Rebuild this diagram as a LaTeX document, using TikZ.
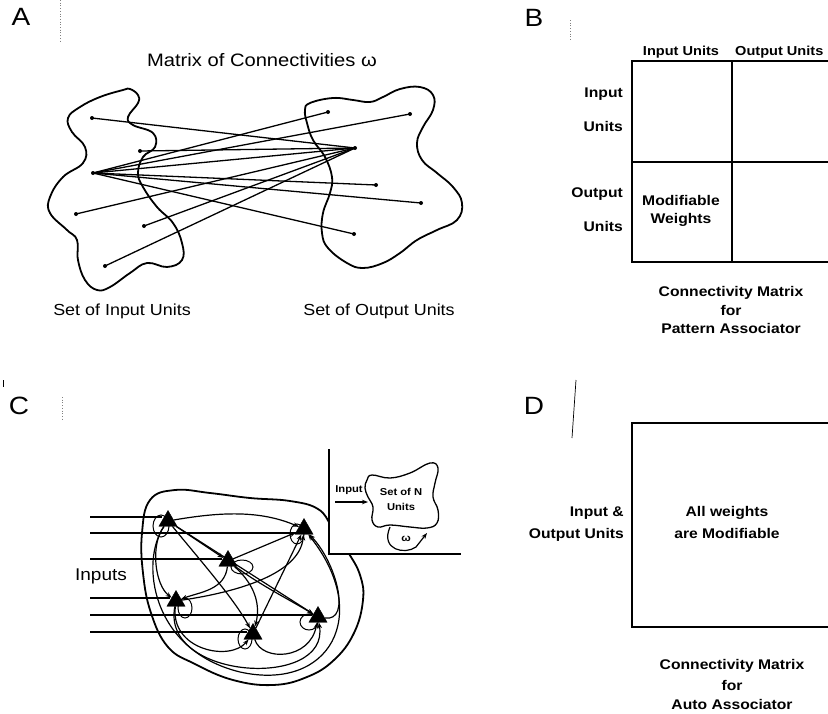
\documentclass[tikz,border=0pt]{standalone}
\usepackage{fontspec}
\setmainfont{Liberation Sans}[FakeStretch=1.12]
\usetikzlibrary{arrows.meta,shapes.geometric}
\begin{document}
\begin{tikzpicture}[x=1pt,y=-1pt,
  lbl/.style={font=\fontsize{25}{25}\selectfont, inner sep=0pt, text height=0.72em, text depth=0pt},
  txt/.style={font=\fontsize{16}{16}\selectfont, inner sep=0pt, text height=0.72em, text depth=0pt},
  ttl/.style={font=\fontsize{18}{18}\selectfont, inner sep=0pt, text height=0.72em, text depth=0pt},
  btxt/.style={font=\bfseries\fontsize{14}{14}\selectfont, inner sep=0pt, text height=0.72em, text depth=0pt},
  stxt/.style={font=\bfseries\fontsize{10}{10}\selectfont, inner sep=0pt, text height=0.72em, text depth=0pt},
  blob/.style={line width=1.8pt},
  dotn/.style={circle, fill, inner sep=0pt, minimum size=4pt},
  link/.style={line width=1.3pt},
  tri/.style={regular polygon, regular polygon sides=3, fill, draw, inner sep=0pt, minimum size=21pt},
  wire/.style={line width=1.2pt, -{Stealth[length=6pt,width=4.5pt]}},
  inwire/.style={line width=1.4pt},
  loopc/.style={line width=1pt},
  mat/.style={line width=1.6pt},
  faint/.style={line width=0.7pt, dotted, gray}
]
\useasboundingbox (0,0) rectangle (828,713);

% ---------------- Panel A ----------------
\node[lbl] (la) at (21,22) {A};
\draw[faint] (60,0) -- (60,42);
\node[ttl] (ta) at (262,63) {Matrix of Connectivities ω};
\draw[blob] plot[smooth cycle, tension=0.7] coordinates {
 (123,90) (100,97) (80,107) (68,118) (72,132) (85,147) (83,163) (63,177)
 (50,197) (50,213) (67,230) (77,240) (78,260) (85,280) (97,290) (110,287)
 (130,273) (147,263) (167,267) (182,260) (182,243) (173,223) (157,207)
 (143,187) (138,173) (143,157) (155,147) (153,133) (133,125) (128,117)
 (138,103) (138,95) (130,89)};
\draw[blob] plot[smooth cycle, tension=0.7] coordinates {
 (310,103) (333,98) (353,100) (370,102) (383,97) (400,89) (420,87) (433,95)
 (433,110) (423,127) (417,143) (422,160) (437,173) (453,187) (462,203)
 (457,220) (437,230) (417,240) (400,253) (383,263) (363,268) (347,263)
 (328,248) (322,233) (323,213) (330,193) (332,177) (325,157) (313,140)
 (307,123) (305,110)};
\node[dotn] (i1) at (92,118) {};
\node[dotn] (i2) at (140,151) {};
\node[dotn] (i3) at (93,173) {};
\node[dotn] (i4) at (76,214) {};
\node[dotn] (i5) at (144,226) {};
\node[dotn] (i6) at (105,266) {};
\node[dotn] (o1) at (328,112) {};
\node[dotn] (o2) at (410,114) {};
\node[dotn] (o3) at (355,148) {};
\node[dotn] (o4) at (376,185) {};
\node[dotn] (o5) at (421,203) {};
\node[dotn] (o6) at (354,234) {};
\foreach \a in {i1,i2,i3,i4,i5,i6} \draw[link] (\a.center) -- (o3.center);
\foreach \b in {o1,o2,o4,o5,o6} \draw[link] (i3.center) -- (\b.center);
\node[txt] (sa1) at (122,312) {Set of Input Units};
\node[txt] (sa2) at (379,312) {Set of Output Units};

% ---------------- Panel B ----------------
\node[lbl] (lb) at (534,23) {B};
\draw[faint] (570,20) -- (570,40);
\node[btxt, font=\bfseries\fontsize{13}{13}\selectfont] (hb1) at (681,52) {Input Units};
\node[btxt, font=\bfseries\fontsize{13}{13}\selectfont, anchor=west] (hb2) at (735,52) {Output Units};
\draw[mat] (828,61) -- (632,61) -- (632,262) -- (828,262);
\draw[mat] (732,61) -- (732,262);
\draw[mat] (632,162) -- (828,162);
\node[btxt, anchor=east] (rb1) at (623,94) {Input};
\node[btxt, anchor=east] (rb2) at (623,128) {Units};
\node[btxt, anchor=east] (rb3) at (623,194) {Output};
\node[btxt, anchor=east] (rb4) at (623,228) {Units};
\node[btxt] (mw1) at (681,202) {Modifiable};
\node[btxt] (mw2) at (681,220) {Weights};
\node[btxt] (cb1) at (731,293) {Connectivity Matrix};
\node[btxt] (cb2) at (731,312) {for};
\node[btxt] (cb3) at (731,330) {Pattern Associator};

% ---------------- Panel C ----------------
\draw[line width=0.6pt] (3,380) -- (3,387);
\node[lbl] (lc) at (19,411) {C};
\draw[faint] (62,397) -- (62,420);
\draw[blob] plot[smooth cycle, tension=0.7] coordinates {
 (150,500) (175,490) (210,493) (250,498) (290,501) (318,509) (332,527)
 (348,552) (360,575) (363,600) (354,633) (334,660) (307,677) (273,685)
 (233,680) (195,664) (168,647) (151,613) (143,573) (142,533)};
\coordinate (p1) at (168,521);
\coordinate (p2) at (304,529);
\coordinate (p3) at (228,561);
\coordinate (p4) at (176,601);
\coordinate (p5) at (318,617);
\coordinate (p6) at (253,634);
% self loops
\draw[loopc] (161,526) ellipse [x radius=8pt, y radius=11pt];
\draw[loopc] (297,534) ellipse [x radius=7pt, y radius=10pt];
\draw[loopc] (242,567) ellipse [x radius=11pt, y radius=7pt];
\draw[loopc] (185,608) ellipse [x radius=7pt, y radius=10pt];
\draw[loopc] (309,622) ellipse [x radius=9pt, y radius=8pt];
\draw[loopc] (245,639) ellipse [x radius=7pt, y radius=10pt];
\node[tri] (t1) at (p1) {};
\node[tri] (t2) at (p2) {};
\node[tri] (t3) at (p3) {};
\node[tri] (t4) at (p4) {};
\node[tri] (t5) at (p5) {};
\node[tri] (t6) at (p6) {};
% input lines
\node[txt, font=\fontsize{17}{17}\selectfont] (inp) at (101,577) {Inputs};
\coordinate (in1) at (90,517);
\coordinate (in2) at (90,533);
\coordinate (in3) at (90,559);
\coordinate (in4) at (90,598);
\coordinate (in5) at (90,615);
\coordinate (in6) at (90,632);
\draw[inwire] (in1) -- (in1 -| t1.west);
\draw[inwire] (in2) -- (in2 -| t2.west);
\draw[inwire] (in3) -- (in3 -| t3.west);
\draw[inwire] (in4) -- (in4 -| t4.west);
\draw[inwire] (in5) -- (in5 -| t5.west);
\draw[inwire] (in6) -- (in6 -| t6.west);
% connections
\draw[wire] (t1) .. controls (220,512) and (260,510) .. (t2);
\draw[wire] (t1) -- (t3);
\draw[wire] (t1) -- (t5);
\draw[wire] (t1) .. controls (200,560) and (235,600) .. (t6);
\draw[wire] (t3) -- (t2);
\draw[wire] (t3) .. controls (260,585) and (290,600) .. (t5);
\draw[wire] (t4) .. controls (250,590) and (300,570) .. (t2);
\draw[wire] (t6) -- (t2);
\draw[wire] (t1) .. controls (150,545) and (155,585) .. (t4);
\draw[wire] (t3) .. controls (225,590) and (200,592) .. (t4);
\draw[wire] (t4) .. controls (170,650) and (230,662) .. (t6);
\draw[wire] (t6) .. controls (262,662) and (310,660) .. (t5);
\draw[wire] (t5) .. controls (352,622) and (336,562) .. (t2);
\draw[wire] (t4) .. controls (160,680) and (330,690) .. (t5);
\draw[wire] (t3) .. controls (250,580) and (262,600) .. (t6);
\draw[wire] (t1) .. controls (140,560) and (150,650) .. (240,672)
             .. controls (330,692) and (372,615) .. (t2);
% inset
\fill[white] (330,445) rectangle (475,553);
\draw[mat] (329,449) -- (329,554) -- (461,554);
\draw[line width=1.3pt] plot[smooth cycle, tension=0.7] coordinates {
 (367,480) (372,475) (390,478) (410,473) (430,463) (438,468) (435,483)
 (433,497) (438,510) (437,523) (427,528) (410,527) (390,525) (378,527)
 (372,520) (373,507) (368,497) (365,488)};
\node[stxt] (sn1) at (401,492) {Set of N};
\node[stxt] (sn2) at (401,507) {Units};
\node[stxt] (ii) at (349,489) {Input};
\coordinate (ia) at (335,502);
\draw[wire] (ia) -- (ia -| 368,0);
\draw[wire] (390,527) .. controls (380,550) and (405,555) .. (416,547) -- (427,533);
\node[stxt] (om) at (406,538) {ω};

% ---------------- Panel D ----------------
\node[lbl] (ld) at (534,411) {D};
\draw[line width=0.7pt] (576,380) -- (572,438);
\draw[mat] (828,423) -- (632,423) -- (632,627) -- (828,627);
\node[btxt, anchor=east] (rd1) at (624,513) {Input \&};
\node[btxt, anchor=east] (rd2) at (624,535) {Output Units};
\node[btxt] (aw1) at (727,513) {All weights};
\node[btxt] (aw2) at (727,535) {are Modifiable};
\node[btxt] (cd1) at (732,666) {Connectivity Matrix};
\node[btxt] (cd2) at (732,687) {for};
\node[btxt] (cd3) at (732,706) {Auto Associator};
\end{tikzpicture}
\end{document}
